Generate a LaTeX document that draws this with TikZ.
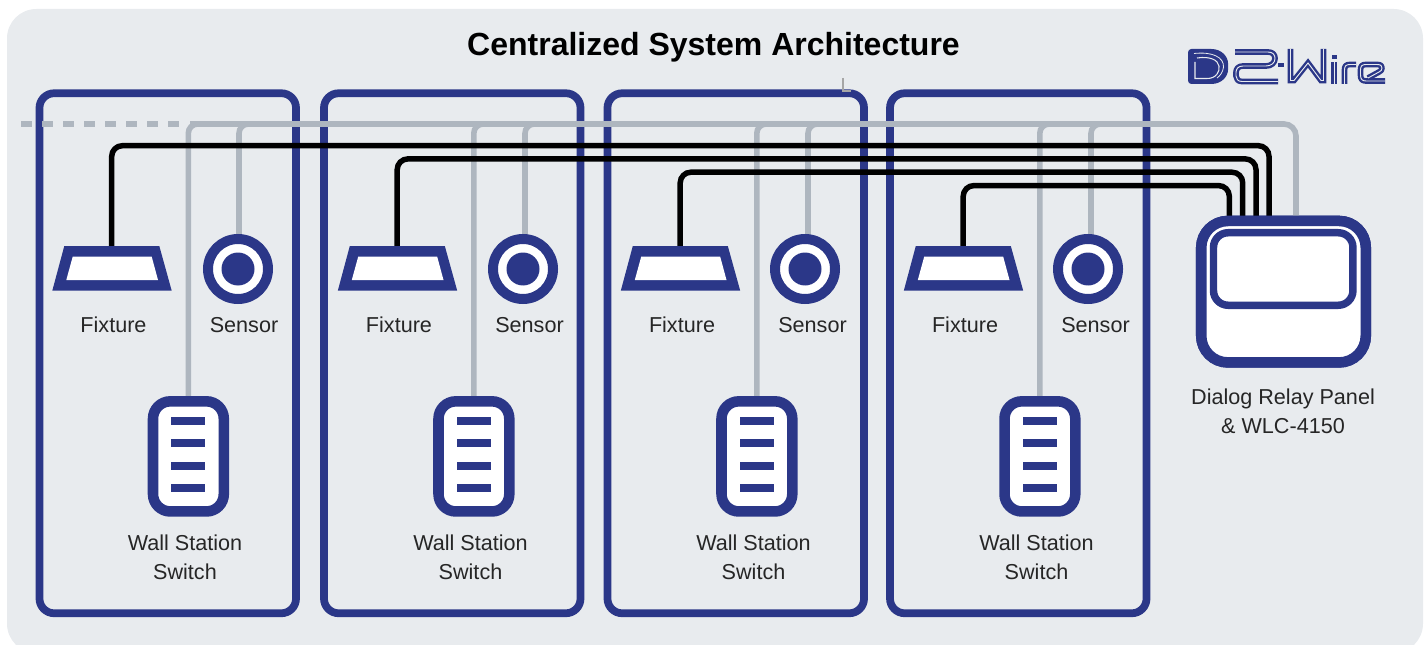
\documentclass[tikz,border=0pt]{standalone}
\usepackage{fontspec}
\setmainfont{Liberation Sans}
\definecolor{dblue}{HTML}{2B3788}
\definecolor{wgray}{HTML}{AEB6BF}
\definecolor{bgc}{HTML}{E8EBEE}
\definecolor{txt}{HTML}{262626}
\tikzset{
  zone/.style={draw=dblue,line width=5.8pt,rounded corners=11pt,minimum width=192.4pt,minimum height=390pt,inner sep=0,outer sep=0},
  blackwire/.style={draw=black,line width=4.1pt,rounded corners=8pt},
  graywire/.style={draw=wgray,line width=4.2pt,rounded corners=7pt},
  dashwire/.style={draw=wgray,line width=4.2pt,dash pattern=on 7.9pt off 7.85pt},
  sensorring/.style={circle,draw=dblue,fill=white,line width=7.5pt,minimum size=45pt,inner sep=0,outer sep=0},
  sensorcore/.style={circle,fill=dblue,minimum size=24.75pt,inner sep=0,outer sep=0},
  switchbox/.style={draw=dblue,fill=white,line width=7.9pt,rounded corners=13pt,minimum width=53.1pt,minimum height=82.6pt,inner sep=0,outer sep=0},
  switchbar/.style={fill=dblue,minimum width=25.5pt,minimum height=6pt,inner sep=0,outer sep=0},
  panelbox/.style={draw=dblue,fill=white,line width=7.9pt,rounded corners=20pt,minimum width=123.4pt,minimum height=106.1pt,inner sep=0,outer sep=0},
  displaybox/.style={draw=dblue,fill=white,line width=5.6pt,rounded corners=11pt,minimum width=104.6pt,minimum height=54.4pt,inner sep=0,outer sep=0},
  lab/.style={text=txt,inner sep=0,anchor=base,font=\fontsize{16.2}{20}\selectfont},
  titlelab/.style={text=black,inner sep=0,anchor=base,font=\bfseries\fontsize{24}{29}\selectfont},
  logoline/.style={draw=dblue,line width=1.8pt,double=bgc,double distance=0.7pt,line join=round},
}
\begin{document}
\begin{tikzpicture}[x=0.75pt,y=-0.75pt]
\useasboundingbox (0,0) rectangle (1426,645);
\begin{scope}
\clip (0,0) rectangle (1426,645);
\fill[bgc,rounded corners=22pt] (7,9) rectangle (1423,653);
\end{scope}
\node[titlelab] (title) at (713.5,56) {Centralized System Architecture};
% zones
\foreach \i/\b in {1/167.75,2/452.25,3/735.75,4/1018.25}
  \node[zone] (zone\i) at (\b,353.25) {};
% tick
\coordinate (tickA) at (843,78);
\coordinate (tickB) at (851,91);
\draw[draw=gray!70,line width=1pt] (tickA) |- (tickB);
% panel
\node[panelbox] (panel) at (1283.5,291.7) {};
\node[displaybox] (display) at (1283.2,269) {};
% wire anchors
\coordinate (busstart) at (190,124);
\coordinate (dashstart) at (21,124);
\coordinate (dashend) at (181,124);
\coordinate (graypin) at (1296,218);
\foreach \i/\xc/\yc in {1/1269/145.7,2/1256/158.9,3/1242.7/172.2,4/1229.3/185.6} {
  \coordinate (corner\i) at (\xc,\yc);
  \coordinate (pin\i) at (\xc,218);
}
% components
\foreach \i/\s/\w in {1/0/239,2/285.5/525,3/568.5/808,4/851.5/1091} {
  \coordinate (fix\i) at ({111.7+\s},247);
  \coordinate (swtop\i) at ({188.3+\s},398);
  \coordinate (sentop\i) at (\w,236);
  \coordinate (swjoin\i) at ({240+\s},124);
  \coordinate (senjoin\i) at ({290+\s},124);
}
% gray wires
\draw[dashwire] (dashstart) -- (dashend);
\draw[graywire,rounded corners=9pt] (busstart) -| (graypin);
\foreach \i in {1,2,3,4} {
  \draw[graywire] (swtop\i) |- (swjoin\i);
  \draw[graywire] (sentop\i) |- (senjoin\i);
}
% black wires
\foreach \i in {1,2,3,4}
  \draw[blackwire] (fix\i) |- (corner\i) -- (pin\i);
% panel border repaint over wire ends
\node[panelbox] (panelfront) at (1283.5,291.7) {};
\node[displaybox] (displayfront) at (1283.2,269) {};
\node[lab] (panellabA) at (1283,404) {Dialog Relay Panel};
\node[lab] (panellabB) at (1283,433) {\& WLC-4150};
\foreach \i/\s/\c in {1/0/238,2/285.5/523,3/568.5/805,4/851.5/1088} {
  % fixture
  \fill[dblue] ({64.3+\s},246) -- ({159.3+\s},246) -- ({171.7+\s},290.7) -- ({52.3+\s},290.7) -- cycle;
  \fill[white] ({72.7+\s},256.7) -- ({151.7+\s},256.7) -- ({158+\s},280) -- ({66.3+\s},280) -- cycle;
  \node[lab] (fixlab\i) at ({113.5+\s},332) {Fixture};
  % sensor
  \node[sensorring] (sen\i) at (\c,269) {};
  \node[sensorcore] (core\i) at (\c,269) {};
  \node[lab] (senlab\i) at ({244+\s},332) {Sensor};
  % switch
  \node[switchbox] (sw\i) at ({188.4+\s},456.4) {};
  \foreach \k/\yy in {1/421,2/443.3,3/466,4/488.3}
    \node[switchbar] (bar\i\k) at ({188.3+\s},\yy) {};
  \node[lab] (swlabA\i) at ({185+\s},550) {Wall Station};
  \node[lab] (swlabB\i) at ({185+\s},579) {Switch};
}
% logo: D
\fill[dblue,rounded corners=2.5pt] (1188,49) -- (1208,49) .. controls (1222,49) and (1228,57) .. (1228,66.5) .. controls (1228,76) and (1222,84) .. (1208,84) -- (1188,84) -- cycle;
\draw[bgc,line width=0.8pt] (1195,62) -- (1195,78.5) -- (1207,78.5) .. controls (1216,78.5) and (1220,72) .. (1219,66) .. controls (1218,60) and (1210,56) .. (1197,58);
\draw[bgc,line width=0.6pt] (1194,53.5) .. controls (1212,51.5) and (1224,57) .. (1223.5,67) .. controls (1223,72) and (1220,76) .. (1217,78);
% logo: 2
\draw[logoline] (1235,52) -- (1268,52) .. controls (1273,52) and (1275,55) .. (1275,58.5) .. controls (1275,63) and (1271,66) .. (1266,66) -- (1243,66) .. controls (1238,66) and (1236,69) .. (1236,72.5) -- (1236,76) .. controls (1236,79) and (1238,81.5) .. (1242,81.5) -- (1278,81.5);
% logo: dash
\fill[dblue] (1278,63.5) rectangle (1284,67.5);
% logo: W
\draw[logoline,line join=miter] (1290.5,49) -- (1290.5,80.5) -- (1294,80.5) -- (1308,63) -- (1321,80.5) -- (1323.5,80.5) -- (1323.5,49);
% logo: i
\fill[dblue] (1331.5,55) rectangle (1336.5,59);
\draw[logoline] (1334,62) -- (1334,84);
% logo: r
\draw[logoline] (1344.5,84) -- (1344.5,70) .. controls (1344.5,66) and (1346,64.5) .. (1350,64.5) -- (1356,64.5);
% logo: e
\draw[logoline] (1385,81) -- (1366,81) .. controls (1362,81) and (1360.5,79) .. (1360.5,75) -- (1360.5,70) .. controls (1360.5,66) and (1362,64.5) .. (1366,64.5) -- (1377,64.5) .. controls (1381,64.5) and (1382,66) .. (1382,68) .. controls (1382,70) and (1381,71) .. (1379,72) -- (1368,78);
\end{tikzpicture}
\end{document}
